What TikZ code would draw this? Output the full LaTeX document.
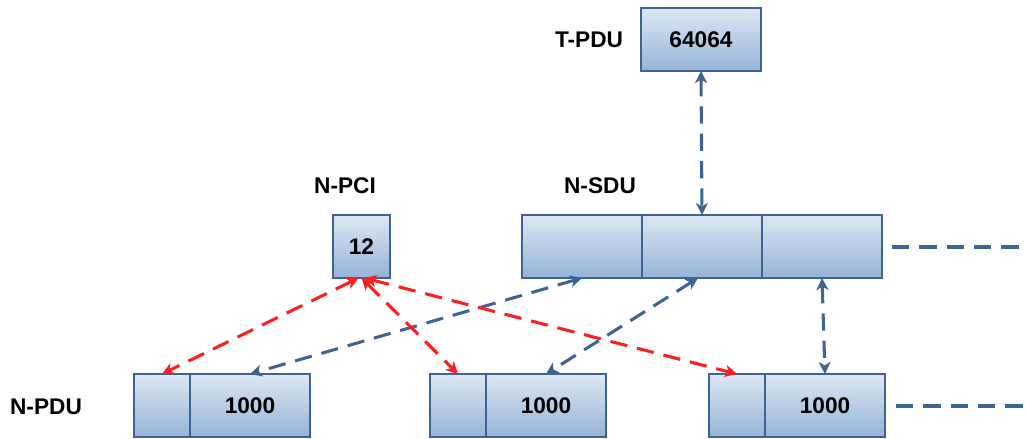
\documentclass[tikz,border=0pt]{standalone}
\usepackage{fontspec}
\setmainfont{Liberation Sans}
\usetikzlibrary{arrows.meta,calc}
\definecolor{boxline}{RGB}{62,100,150}
\definecolor{boxtop}{RGB}{222,231,243}
\definecolor{boxbot}{RGB}{149,179,215}
\definecolor{arrblue}{RGB}{62,100,150}
\definecolor{arrred}{RGB}{255,30,30}
\tikzset{
  cell/.style={draw=boxline,line width=1.5pt,top color=boxtop,bottom color=boxbot,
    rectangle,inner sep=0pt,outer sep=0pt,minimum height=47.25pt,
    font=\fontsize{17}{20}\selectfont\bfseries},
  lbl/.style={font=\fontsize{17}{20}\selectfont\bfseries,inner sep=0pt},
  conn/.style={line width=2.3pt,dash pattern=on 13pt off 7.5pt,
    {Stealth[length=9pt,width=9pt,inset=2.5pt]}-{Stealth[length=9pt,width=9pt,inset=2.5pt]}},
  bconn/.style={conn,draw=arrblue,color=arrblue},
  rconn/.style={conn,draw=arrred,color=arrred},
  tail/.style={line width=2.3pt,dash pattern=on 13pt off 7.5pt,draw=arrblue}
}
\begin{document}
\begin{tikzpicture}[x=0.75pt,y=-0.75pt]
\useasboundingbox (0,0) rectangle (1025,439);
% top
\node[cell,minimum width=90pt] (tpdu) at (701,39.5) {64064};
\node[lbl] (tlbl) at (589,40) {T-PDU};
% middle
\node[cell,minimum width=42.75pt] (pci) at (361.5,246.5) {12};
\node[lbl] (pcilbl) at (345,186) {N-PCI};
\node[cell,minimum width=90pt] (s1) at (582,246.5) {};
\node[cell,minimum width=90pt] (s2) at (702,246.5) {};
\node[cell,minimum width=90pt] (s3) at (822,246.5) {};
\node[lbl] (sdulbl) at (600,186) {N-SDU};
% bottom
\node[lbl] (pdulbl) at (46,407) {N-PDU};
\node[cell,minimum width=42pt] (b1L) at (162,405.5) {};
\node[cell,minimum width=90pt] (b1R) at (250,405.5) {1000};
\node[cell,minimum width=42pt] (b2L) at (458,405.5) {};
\node[cell,minimum width=90pt] (b2R) at (546,405.5) {1000};
\node[cell,minimum width=42pt] (b3L) at (737,405.5) {};
\node[cell,minimum width=90pt] (b3R) at (825,405.5) {1000};
% free ends
\coordinate (t1a) at (892,247);
\coordinate (t1b) at (1025,247);
\coordinate (t2a) at (896,406);
\coordinate (t2b) at (1025,406);
% connectors
\draw[bconn] (tpdu.south) -- (s2.north);
\draw[bconn] (s1.south) -- (b1R.north);
\draw[bconn] ($(s2.south)+(-4,0)$) -- (b2R.north);
\draw[bconn] (s3.south) -- (b3R.north);
\draw[rconn] ($(pci.south)+(-3,0)$) -- (b1L.north);
\draw[rconn] (pci.south) -- (b2L.north);
\draw[rconn] ($(pci.south)+(3,0)$) -- (b3L.north);
\draw[tail] (t1a) -- (t1b);
\draw[tail] (t2a) -- (t2b);
\end{tikzpicture}
\end{document}
